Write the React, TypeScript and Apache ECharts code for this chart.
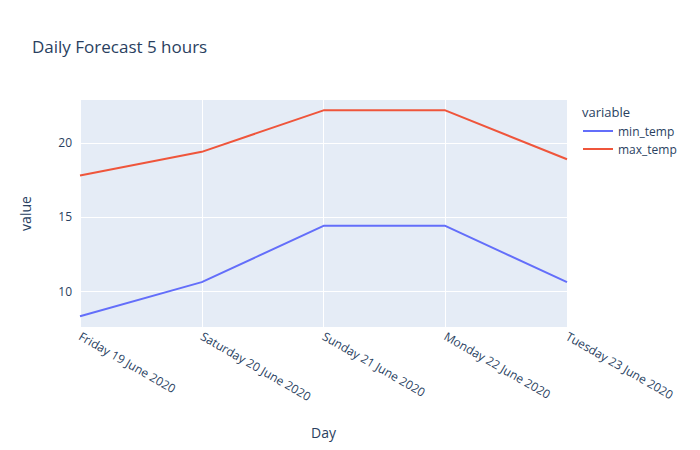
import React, { useEffect, useRef } from 'react';
import * as echarts from 'echarts';

const days = ['Friday 19 June 2020', 'Saturday 20 June 2020', 'Sunday 21 June 2020', 'Monday 22 June 2020', 'Tuesday 23 June 2020'];
const minTemp = [8.3, 10.6, 14.4, 14.4, 10.6];
const maxTemp = [17.8, 19.4, 22.2, 22.2, 18.9];
const yTicks = [10, 15, 20];

const font = '"Open Sans", sans-serif';
const ink = '#2a3f5f';

export default function App() {
  const chartRef = useRef<HTMLDivElement>(null);

  useEffect(() => {
    const chart = echarts.init(chartRef.current, null, { renderer: 'svg' });
    chart.setOption({
      animation: false,
      textStyle: { fontFamily: font },
      title: {
        text: 'Daily Forecast 5 hours',
        left: 27,
        top: 33,
        textStyle: { fontFamily: font, fontSize: 17, fontWeight: 'normal', color: ink },
      },
      legend: {
        orient: 'vertical',
        left: 578,
        top: 120,
        itemGap: 6,
        itemWidth: 30,
        icon: 'path://M0,0 L30,0 L30,2 L0,2 Z',
        textStyle: { fontFamily: font, fontSize: 12, color: ink },
        data: ['min_temp', 'max_temp'],
      },
      graphic: [
        { type: 'text', left: 582, top: 105, style: { text: 'variable', font: `13px ${font}`, fill: ink } },
      ],
      grid: { left: 80, right: 133, top: 100, bottom: 123, backgroundColor: '#E5ECF6', show: true, borderWidth: 0 },
      xAxis: {
        type: 'category',
        data: days,
        boundaryGap: false,
        name: 'Day',
        nameLocation: 'middle',
        nameGap: 98,
        nameTextStyle: { fontFamily: font, fontSize: 14, color: ink },
        axisLine: { show: false },
        axisTick: { show: false },
        axisLabel: { rotate: -30, color: ink, fontSize: 12, fontFamily: font, margin: 8 },
        splitLine: { show: true, lineStyle: { color: '#fff', width: 1 } },
      },
      yAxis: {
        type: 'value',
        min: 7.57,
        max: 22.9,
        name: 'value',
        nameLocation: 'middle',
        nameGap: 48,
        nameTextStyle: { fontFamily: font, fontSize: 14, color: ink },
        axisLine: { show: false },
        axisTick: { show: false, customValues: yTicks },
        axisLabel: { color: ink, fontSize: 12, fontFamily: font, customValues: yTicks },
        splitLine: { show: true, lineStyle: { color: '#fff', width: 1 } },
      },
      series: [
        { name: 'min_temp', type: 'line', data: minTemp, showSymbol: false, color: '#636efa', lineStyle: { width: 2 } },
        { name: 'max_temp', type: 'line', data: maxTemp, showSymbol: false, color: '#EF553B', lineStyle: { width: 2 } },
      ],
    });
    return () => chart.dispose();
  }, []);

  return <div ref={chartRef} style={{ width: 700, height: 450, margin: -8 }} />;
}
